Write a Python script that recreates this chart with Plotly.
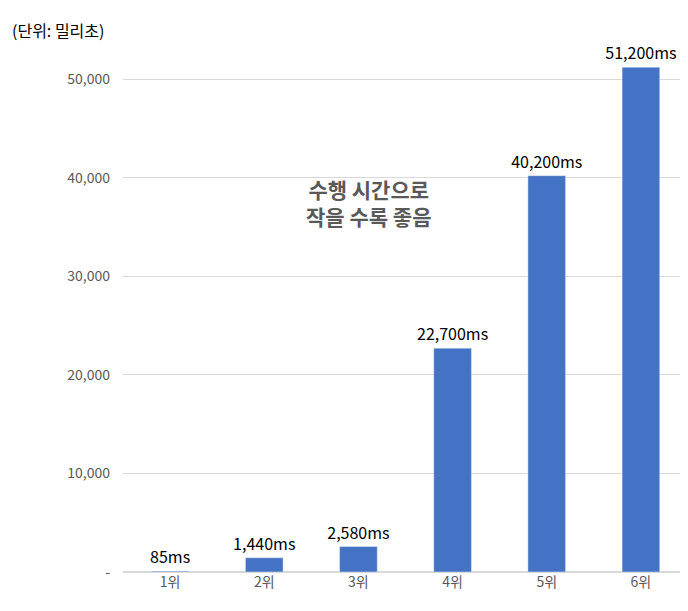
import plotly.graph_objects as go

ranks = ['1위', '2위', '3위', '4위', '5위', '6위']
times_ms = [85, 1440, 2580, 22700, 40200, 51200]
labels = [f'{v:,}ms' for v in times_ms]
tick_vals = [0, 10000, 20000, 30000, 40000, 50000]
tick_text = ['-', '10,000', '20,000', '30,000', '40,000', '50,000']

font = 'Noto Sans CJK KR'

fig = go.Figure()
fig.add_trace(go.Bar(
    x=ranks, y=times_ms, text=labels, textposition='outside',
    constraintext='none',
    textfont=dict(family=font, size=16, color='black'),
    marker_color='#4472C4', cliponaxis=False,
))

fig.update_layout(
    width=688, height=611,
    margin=dict(l=115, r=8, t=45, b=47),
    plot_bgcolor='white', paper_bgcolor='white',
    bargap=0.6, showlegend=False,
    font=dict(family=font),
    xaxis=dict(tickfont=dict(size=14, color='#595959'), showline=False),
    yaxis=dict(range=[0, 52640], tickvals=tick_vals, ticktext=tick_text,
               tickfont=dict(size=14, color='#595959'),
               gridcolor='#D9D9D9', zeroline=True, zerolinecolor='#D9D9D9',
               ticklabelstandoff=12),
    annotations=[
        dict(text='(단위: 밀리초)', xref='paper', yref='paper', x=-0.2, y=1.044,
             xanchor='left', yanchor='middle', showarrow=False,
             font=dict(size=16, color='black')),
        dict(text='<b>수행 시간으로<br>작을 수록 좋음</b>', xref='paper', yref='paper',
             x=0.32, y=0.77, showarrow=False, align='center',
             font=dict(size=21, color='#595959')),
    ],
)

fig.write_html('out.html')
